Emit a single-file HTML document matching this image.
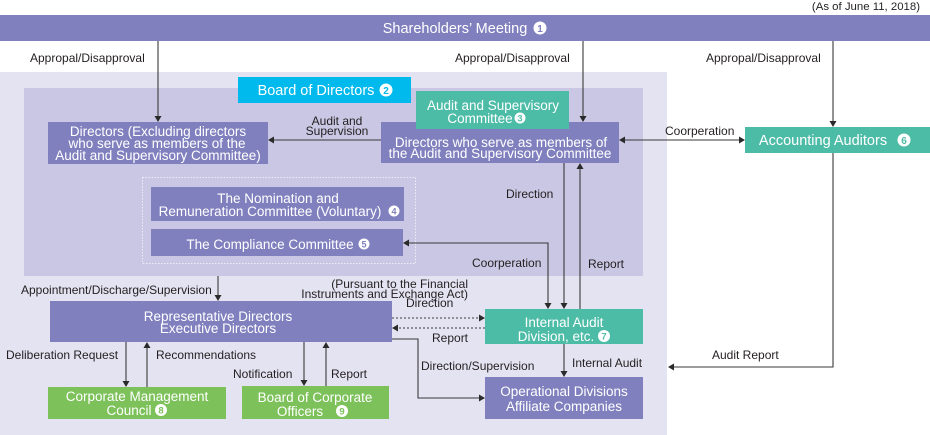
<!DOCTYPE html>
<html><head><meta charset="utf-8"><style>
html,body{margin:0;padding:0;background:#fff;}
svg{display:block;}
text{font-family:"Liberation Sans",Arial,sans-serif;}
.l{font-size:12px;fill:#231f20;}
.b{font-size:13.5px;fill:#fff;}
.t{font-size:14.5px;fill:#fff;}
</style></head><body>
<svg width="930" height="435" viewBox="0 0 930 435" xmlns="http://www.w3.org/2000/svg">
<!-- backgrounds -->
<rect x="0" y="72" width="667" height="363" fill="#e4e3f1"/>
<rect x="24" y="88" width="619" height="188" fill="#c9c7e3"/>
<rect x="142.5" y="177.5" width="273" height="86" fill="none" stroke="#eeeef8" stroke-width="1" stroke-dasharray="1.5,1.5"/>

<!-- top -->
<text x="920" y="10" text-anchor="end" style="font-size:11.4px;fill:#231f20">(As of June 11, 2018)</text>
<rect x="0" y="15" width="930" height="26" fill="#8180bf"/>
<text class="t" x="455" y="33" text-anchor="middle">Shareholders’ Meeting</text>
<circle cx="540" cy="28" r="6.5" fill="#fff"/><text x="540" y="32" text-anchor="middle" style="font-size:10px;font-weight:bold;fill:#8180bf">1</text>

<!-- labels approval -->
<text class="l" x="30" y="62">Appropal/Disapproval</text>
<text class="l" x="455" y="62">Appropal/Disapproval</text>
<text class="l" x="706" y="62">Appropal/Disapproval</text>

<!-- Board of Directors -->
<rect x="238" y="77" width="173" height="26" fill="#00b9ed"/>
<text class="t" x="316" y="95" text-anchor="middle">Board of Directors</text>
<circle cx="386" cy="90" r="6.5" fill="#fff"/><text x="386" y="94" text-anchor="middle" style="font-size:10px;font-weight:bold;fill:#00b9ed">2</text>

<!-- Directors excluding -->
<rect x="48" y="122" width="220" height="42" fill="#8180bf"/>
<text class="b" x="158" y="136" text-anchor="middle">Directors (Excluding directors</text>
<text class="b" x="157" y="148" text-anchor="middle">who serve as members of the</text>
<text class="b" x="158" y="160" text-anchor="middle">Audit and Supervisory Committee)</text>

<!-- Directors who serve -->
<rect x="381" y="122" width="238" height="41" fill="#8180bf"/>
<text class="b" x="501" y="147" text-anchor="middle">Directors who serve as members of</text>
<text class="b" x="500" y="158" text-anchor="middle">the Audit and Supervisory Committee</text>

<!-- Audit and Supervisory Committee -->
<rect x="416" y="91" width="153" height="38" fill="#4dbca7"/>
<text class="b" x="493" y="110" text-anchor="middle">Audit and Supervisory</text>
<text class="b" x="480" y="123" text-anchor="middle">Committee</text>
<circle cx="520" cy="118" r="5.5" fill="#fff"/><text x="520" y="121.5" text-anchor="middle" style="font-size:9px;font-weight:bold;fill:#4dbca7">3</text>

<!-- Accounting Auditors -->
<rect x="745" y="127" width="185" height="26" fill="#4dbca7"/>
<text class="t" x="823" y="145" text-anchor="middle">Accounting Auditors</text>
<circle cx="904" cy="140" r="6.5" fill="#fff"/><text x="904" y="144" text-anchor="middle" style="font-size:10px;font-weight:bold;fill:#4dbca7">6</text>

<!-- Nomination -->
<rect x="151" y="187" width="253" height="34" fill="#8180bf"/>
<text class="b" x="278" y="203" text-anchor="middle">The Nomination and</text>
<text class="b" x="270" y="216" text-anchor="middle">Remuneration Committee (Voluntary)</text>
<circle cx="394" cy="211" r="5.5" fill="#fff"/><text x="394" y="214.5" text-anchor="middle" style="font-size:9px;font-weight:bold;fill:#8180bf">4</text>

<!-- Compliance -->
<rect x="151" y="229" width="252" height="27" fill="#8180bf"/>
<text class="b" x="270" y="249" text-anchor="middle">The Compliance Committee</text>
<circle cx="364" cy="244" r="5.5" fill="#fff"/><text x="364" y="247.5" text-anchor="middle" style="font-size:9px;font-weight:bold;fill:#8180bf">5</text>

<!-- Representative Directors -->
<rect x="50" y="301" width="342" height="41" fill="#8180bf"/>
<text class="b" x="218" y="321" text-anchor="middle">Representative Directors</text>
<text class="b" x="218" y="333" text-anchor="middle">Executive Directors</text>

<!-- Internal Audit -->
<rect x="485" y="309" width="158" height="35" fill="#4dbca7"/>
<text class="b" x="564" y="327" text-anchor="middle">Internal Audit</text>
<text class="b" x="556" y="341" text-anchor="middle">Division, etc.</text>
<circle cx="604" cy="336" r="6" fill="#fff"/><text x="604" y="339.5" text-anchor="middle" style="font-size:9.5px;font-weight:bold;fill:#4dbca7">7</text>

<!-- Operational -->
<rect x="485" y="377" width="158" height="42" fill="#8180bf"/>
<text class="b" x="564" y="396" text-anchor="middle">Operational Divisions</text>
<text class="b" x="564" y="411" text-anchor="middle">Affiliate Companies</text>

<!-- Corporate Management Council -->
<rect x="48" y="387" width="178" height="32" fill="#7dc15a"/>
<text class="b" x="137" y="401" text-anchor="middle">Corporate Management</text>
<text class="b" x="129" y="415" text-anchor="middle">Council</text>
<circle cx="161" cy="410" r="6" fill="#fff"/><text x="161" y="413.5" text-anchor="middle" style="font-size:9.5px;font-weight:bold;fill:#7dc15a">8</text>

<!-- Board of Corporate Officers -->
<rect x="242" y="386" width="147" height="33" fill="#7dc15a"/>
<text class="b" x="315" y="402" text-anchor="middle">Board of Corporate</text>
<text class="b" x="300" y="416" text-anchor="middle">Officers</text>
<circle cx="342" cy="411" r="6" fill="#fff"/><text x="342" y="414.5" text-anchor="middle" style="font-size:9.5px;font-weight:bold;fill:#7dc15a">9</text>

<!-- connectors -->
<g stroke="#3a3a3a" stroke-width="1.1" fill="none">
<line x1="158" y1="41" x2="158" y2="117"/>
<line x1="583" y1="41" x2="583" y2="117"/>
<line x1="833" y1="41" x2="833" y2="122"/>
<line x1="381" y1="140" x2="273" y2="140"/>
<line x1="624" y1="140" x2="740" y2="140"/>
<polyline points="408,243 548,243 548,304"/>
<line x1="564" y1="163" x2="564" y2="304"/>
<line x1="580" y1="309" x2="580" y2="168"/>
<line x1="218" y1="276" x2="218" y2="296"/>
<line x1="392" y1="318" x2="480" y2="318" stroke-dasharray="2,2"/>
<line x1="485" y1="328" x2="397" y2="328" stroke-dasharray="2,2"/>
<polyline points="392,339 418,339 418,398 480,398"/>
<line x1="564" y1="344" x2="564" y2="372"/>
<polyline points="833,153 833,367 673,367"/>
<line x1="126" y1="342" x2="126" y2="382"/>
<line x1="147" y1="387" x2="147" y2="347"/>
<line x1="304" y1="342" x2="304" y2="381"/>
<line x1="326" y1="386" x2="326" y2="347"/>
</g>
<g fill="#2a2a2a">
<polygon points="154.5,116 161.5,116 158,122"/>
<polygon points="579.5,116 586.5,116 583,122"/>
<polygon points="829.5,121 836.5,121 833,127"/>
<polygon points="274,136.5 274,143.5 268,140"/>
<polygon points="625,136.5 625,143.5 619,140"/>
<polygon points="739,136.5 739,143.5 745,140"/>
<polygon points="409,239.5 409,246.5 403,243"/>
<polygon points="544.5,303 551.5,303 548,309"/>
<polygon points="560.5,303 567.5,303 564,309"/>
<polygon points="576.5,169 583.5,169 580,163"/>
<polygon points="214.5,295 221.5,295 218,301"/>
<polygon points="479,314.5 479,321.5 485,318"/>
<polygon points="398,324.5 398,331.5 392,328"/>
<polygon points="479,394.5 479,401.5 485,398"/>
<polygon points="560.5,371 567.5,371 564,377"/>
<polygon points="674,363.5 674,370.5 668,367"/>
<polygon points="122.5,381 129.5,381 126,387"/>
<polygon points="143.5,348 150.5,348 147,342"/>
<polygon points="300.5,380 307.5,380 304,386"/>
<polygon points="322.5,348 329.5,348 326,342"/>
</g>

<!-- connector labels -->
<text class="l" x="337" y="125" text-anchor="middle">Audit and</text>
<text class="l" x="337" y="135" text-anchor="middle">Supervision</text>
<text class="l" x="665" y="135">Coorperation</text>
<text class="l" x="506" y="198">Direction</text>
<text class="l" x="472" y="267">Coorperation</text>
<text class="l" x="588" y="268">Report</text>
<text class="l" x="21" y="294">Appointment/Discharge/Supervision</text>
<text class="l" x="468" y="288" text-anchor="end">(Pursuant to the Financial</text>
<text class="l" x="468" y="298" text-anchor="end">Instruments and Exchange Act)</text>
<text class="l" x="406" y="307">Direction</text>
<text class="l" x="432" y="342">Report</text>
<text class="l" x="421" y="370">Direction/Supervision</text>
<text class="l" x="572" y="367">Internal Audit</text>
<text class="l" x="712" y="359">Audit Report</text>
<text class="l" x="6" y="359">Deliberation Request</text>
<text class="l" x="156" y="359">Recommendations</text>
<text class="l" x="233" y="378">Notification</text>
<text class="l" x="331" y="378">Report</text>
</svg>
</body></html>
